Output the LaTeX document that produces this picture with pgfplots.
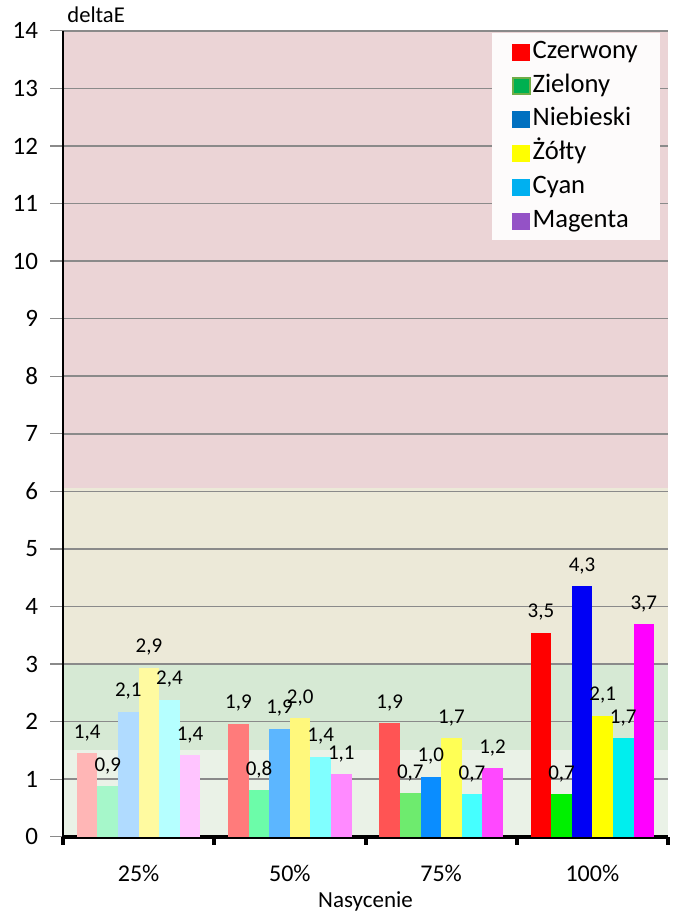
\documentclass[border=0pt]{standalone}
\usepackage{pgfplots}
\pgfplotsset{compat=1.18}
\usepackage{fontspec}
\setmainfont{Carlito}
\definecolor{bandpink}{HTML}{EBD4D6}
\definecolor{bandbeige}{HTML}{ECE9D8}
\definecolor{bandgreen}{HTML}{D6E9D4}
\definecolor{bandlight}{HTML}{EAF2E7}
\definecolor{gridgray}{HTML}{8A8A8A}
\definecolor{legfill}{HTML}{FDFBFB}
% bars: series x group
\definecolor{rA}{HTML}{FFB6B6}\definecolor{rB}{HTML}{FF7B7B}\definecolor{rC}{HTML}{FF5454}\definecolor{rD}{HTML}{FF0000}
\definecolor{gA}{HTML}{A6F7CA}\definecolor{gB}{HTML}{6CFCA9}\definecolor{gC}{HTML}{6EEB6E}\definecolor{gD}{HTML}{00F000}
\definecolor{bA}{HTML}{B0DBFF}\definecolor{bB}{HTML}{5CB6FF}\definecolor{bC}{HTML}{0A8DFF}\definecolor{bD}{HTML}{0000F5}
\definecolor{yA}{HTML}{FFFAA0}\definecolor{yB}{HTML}{FFF87C}\definecolor{yC}{HTML}{FFFF55}\definecolor{yD}{HTML}{FFFF00}
\definecolor{cA}{HTML}{B5FFFF}\definecolor{cB}{HTML}{80FFFF}\definecolor{cC}{HTML}{45FFFF}\definecolor{cD}{HTML}{00EEEE}
\definecolor{mA}{HTML}{FFC4FF}\definecolor{mB}{HTML}{FF8AFF}\definecolor{mC}{HTML}{FF48FF}\definecolor{mD}{HTML}{FF00FF}
% legend colours
\definecolor{lR}{HTML}{FF0000}
\definecolor{lG}{HTML}{00B050}\definecolor{lGb}{HTML}{70AD47}
\definecolor{lB}{HTML}{0070C0}
\definecolor{lY}{HTML}{FFFF00}
\definecolor{lC}{HTML}{00B0F0}
\definecolor{lM}{HTML}{9452C6}
\newcommand\mybar[4]{\addplot[ybar, fill=#1, draw=none, bar shift=#2, forget plot,
  nodes near coords, point meta=explicit symbolic,
  every node near coord/.append style={xshift=#3}] coordinates {#4};}
\begin{document}
\begin{tikzpicture}
\begin{axis}[
  set layers,
  at={(31.5pt,441.6pt)}, anchor=north west,
  width=302.5pt, height=403pt, scale only axis,
  xmin=-0.5, xmax=3.5, ymin=0, ymax=14,
  axis x line*=bottom, axis y line*=left,
  xtick={-0.5,0.5,1.5,2.5,3.5},
  x tick label as interval,
  xticklabels={25\%,50\%,75\%,100\%},
  ytick={0,1,...,14},
  ymajorgrids,
  grid style={draw=gridgray, line width=0.8pt},
  tick align=outside,
  major tick length=6.5pt,
  x axis line style={line width=2pt, black},
  y axis line style={line width=0.7pt, black},
  xtick style={line width=2pt, black, /pgfplots/major tick length=4pt},
  ytick style={draw=gridgray, line width=0.7pt},
  /pgf/number format/assume math mode=true,
  yticklabel style={font=\fontsize{12.5}{15}\selectfont, xshift=-2.5pt},
  xticklabel style={font=\fontsize{12}{14}\selectfont, anchor=base, yshift=-15.7pt},
  xlabel={Nasycenie},
  every axis x label/.style={at={(rel axis cs:0.5,0)}, anchor=base, inner sep=0pt, yshift=-35.5pt, font=\fontsize{11.5}{13}\selectfont},
  ylabel={deltaE},
  every axis y label/.style={at={(rel axis cs:0,1)}, anchor=base west, inner sep=0pt, xshift=2pt, yshift=4.3pt, font=\fontsize{11.3}{13}\selectfont},
  bar width=0.136,
  every node near coord/.append style={anchor=base, inner sep=0pt, yshift=7.5pt, font=\fontsize{10.5}{12}\selectfont, text=black},
  legend style={at={(rel axis cs:0.987,0.9975)}, anchor=north east, fill=legfill, draw=none,
    font=\fontsize{13.3}{15}\selectfont, inner xsep=10pt, inner ysep=3.5pt, row sep=4.9pt,
    cells={anchor=west}, nodes={inner sep=1pt, text height=8pt, text depth=2pt}},
  legend image code/.code={\filldraw[#1] (0pt,-4pt) rectangle (8.5pt,4pt);},
]
% background bands
\addplot[fill=bandpink, draw=none, on layer=axis background, forget plot] coordinates {(-0.5,14) (3.5,14)} \closedcycle;
\addplot[fill=bandbeige, draw=none, on layer=axis background, forget plot] coordinates {(-0.5,6.05) (3.5,6.05)} \closedcycle;
\addplot[fill=bandgreen, draw=none, on layer=axis background, forget plot] coordinates {(-0.5,3) (3.5,3)} \closedcycle;
\addplot[fill=bandlight, draw=none, on layer=axis background, forget plot] coordinates {(-0.5,1.5) (3.5,1.5)} \closedcycle;
% Czerwony
\mybar{rA}{-0.34}{-25.71pt}{(0,1.45) [{1,4}]}
\mybar{rB}{-0.34}{-25.71pt}{(1,1.96) [{1,9}]}
\mybar{rC}{-0.34}{-25.71pt}{(2,1.97) [{1,9}]}
\mybar{rD}{-0.34}{-25.71pt}{(3,3.54) [{3,5}]}
% Zielony
\mybar{gA}{-0.204}{-15.43pt}{(0,0.88) [{0,9}]}
\mybar{gB}{-0.204}{-15.43pt}{(1,0.81) [{0,8}]}
\mybar{gC}{-0.204}{-15.43pt}{(2,0.76) [{0,7}]}
\mybar{gD}{-0.204}{-15.43pt}{(3,0.74) [{0,7}]}
% Niebieski
\mybar{bA}{-0.068}{-5.14pt}{(0,2.17) [{2,1}]}
\mybar{bB}{-0.068}{-5.14pt}{(1,1.88) [{1,9}]}
\mybar{bC}{-0.068}{-5.14pt}{(2,1.04) [{1,0}]}
\mybar{bD}{-0.068}{-5.14pt}{(3,4.35) [{4,3}]}
% Zolty
\mybar{yA}{0.068}{5.14pt}{(0,2.94) [{2,9}]}
\mybar{yB}{0.068}{5.14pt}{(1,2.06) [{2,0}]}
\mybar{yC}{0.068}{5.14pt}{(2,1.71) [{1,7}]}
\mybar{yD}{0.068}{5.14pt}{(3,2.10) [{2,1}]}
% Cyan
\mybar{cA}{0.204}{15.43pt}{(0,2.38) [{2,4}]}
\mybar{cB}{0.204}{15.43pt}{(1,1.39) [{1,4}]}
\mybar{cC}{0.204}{15.43pt}{(2,0.74) [{0,7}]}
\mybar{cD}{0.204}{15.43pt}{(3,1.71) [{1,7}]}
% Magenta
\mybar{mA}{0.34}{25.71pt}{(0,1.42) [{1,4}]}
\mybar{mB}{0.34}{25.71pt}{(1,1.09) [{1,1}]}
\mybar{mC}{0.34}{25.71pt}{(2,1.19) [{1,2}]}
\mybar{mD}{0.34}{25.71pt}{(3,3.69) [{3,7}]}
% legend
\addlegendimage{fill=lR, draw=lR}\addlegendentry{Czerwony}
\addlegendimage{fill=lG, draw=lGb, line width=0.8pt}\addlegendentry{Zielony}
\addlegendimage{fill=lB, draw=lB}\addlegendentry{Niebieski}
\addlegendimage{fill=lY, draw=lY}\addlegendentry{Żółty}
\addlegendimage{fill=lC, draw=lC}\addlegendentry{Cyan}
\addlegendimage{fill=lM, draw=lM}\addlegendentry{Magenta}
\end{axis}
\path (0,0) rectangle (337pt,457pt);
\end{tikzpicture}
\end{document}
